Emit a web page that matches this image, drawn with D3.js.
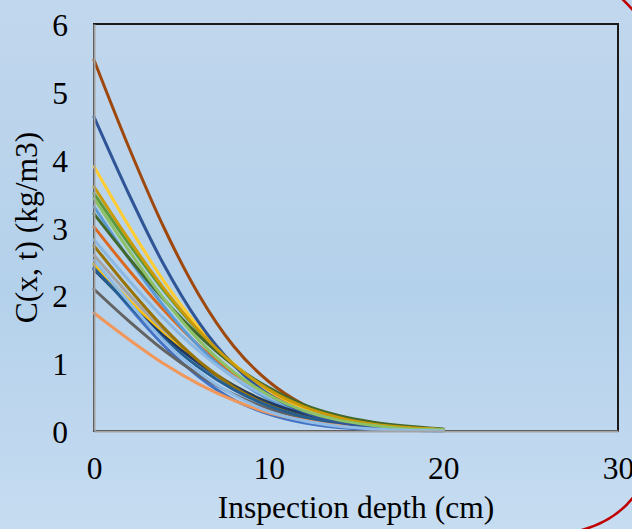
<!DOCTYPE html>
<html>
<head>
<meta charset="utf-8">
<script src="https://cdnjs.cloudflare.com/ajax/libs/d3/7.8.5/d3.min.js"></script>
<style>
  body { margin: 0; }
</style>
</head>
<body>
<div id="chart"></div>
<script>
// depth (cm) where each profile was read
var depths = [0, 2, 4, 6, 8, 10, 12, 14, 16, 18, 20];

// chloride profiles C(x, t)
var profiles = [
  [2.46, 1.83, 1.26, 0.80, 0.46, 0.25, 0.12, 0.05, 0.02, 0.01, 0.00],
  [3.01, 2.37, 1.78, 1.26, 0.85, 0.54, 0.32, 0.18, 0.09, 0.05, 0.02],
  [2.59, 2.01, 1.48, 1.03, 0.67, 0.41, 0.23, 0.12, 0.06, 0.03, 0.01],
  [2.46, 1.93, 1.43, 1.01, 0.67, 0.42, 0.25, 0.13, 0.07, 0.03, 0.01],
  [3.31, 2.54, 1.84, 1.25, 0.79, 0.47, 0.26, 0.13, 0.06, 0.03, 0.01],
  [3.50, 2.76, 2.07, 1.47, 0.98, 0.62, 0.37, 0.21, 0.11, 0.05, 0.02],
  [2.38, 1.87, 1.40, 1.00, 0.67, 0.42, 0.25, 0.14, 0.07, 0.04, 0.02],
  [5.47, 4.18, 3.00, 2.01, 1.25, 0.73, 0.39, 0.19, 0.09, 0.04, 0.01],
  [2.09, 1.62, 1.19, 0.83, 0.54, 0.33, 0.19, 0.10, 0.05, 0.02, 0.01],
  [2.73, 2.10, 1.52, 1.03, 0.65, 0.38, 0.21, 0.11, 0.05, 0.02, 0.01],
  [2.40, 1.86, 1.36, 0.94, 0.61, 0.37, 0.21, 0.11, 0.05, 0.02, 0.01],
  [3.20, 2.55, 1.94, 1.41, 0.97, 0.64, 0.39, 0.23, 0.13, 0.07, 0.03],
  [1.74, 1.35, 0.99, 0.69, 0.45, 0.27, 0.16, 0.08, 0.04, 0.02, 0.01],
  [3.90, 3.02, 2.21, 1.53, 0.99, 0.60, 0.34, 0.18, 0.09, 0.04, 0.02],
  [2.82, 2.22, 1.66, 1.18, 0.79, 0.50, 0.30, 0.17, 0.09, 0.04, 0.02],
  [4.63, 3.49, 2.45, 1.60, 0.97, 0.54, 0.28, 0.13, 0.06, 0.02, 0.01],
  [3.60, 2.82, 2.10, 1.48, 0.98, 0.61, 0.36, 0.20, 0.10, 0.05, 0.02],
  [3.43, 2.66, 1.95, 1.34, 0.87, 0.53, 0.30, 0.16, 0.08, 0.03, 0.02],
  [2.52, 1.90, 1.33, 0.87, 0.53, 0.29, 0.15, 0.07, 0.03, 0.01, 0.00]
];

var lineColors = ["#4472C4", "#DA6A1F", "#A5A5A5", "#FFC000", "#5B9BD5", "#5B9A3B",
  "#203864", "#9E480E", "#636363", "#997300", "#255E91", "#43682B", "#F1975A",
  "#FFCD33", "#8DB8E2", "#2F5597", "#C99A06", "#8CC168", "#8FBCE6"];

var xTicks = [0, 10, 20, 30];
var yTicks = [0, 1, 2, 3, 4, 5, 6];

var svgWidth = 632;
var svgHeight = 529;

var margin = {
  top: 24,
  right: 14,
  bottom: 98,
  left: 94
};

var width = svgWidth - margin.left - margin.right;
var height = svgHeight - margin.top - margin.bottom;

var svg = d3.select("#chart")
  .append("svg")
  .attr("width", svgWidth)
  .attr("height", svgHeight)
  .style("display", "block");

// light blue slide background
var grad = svg.append("defs").append("linearGradient")
  .attr("id", "bg")
  .attr("x1", 0).attr("y1", 0).attr("x2", 0).attr("y2", 1);
grad.append("stop").attr("offset", "0%").attr("stop-color", "#c1d7ed");
grad.append("stop").attr("offset", "55%").attr("stop-color", "#b4d1eb");
grad.append("stop").attr("offset", "100%").attr("stop-color", "#c6dcf1");

svg.append("rect")
  .attr("width", svgWidth)
  .attr("height", svgHeight)
  .attr("fill", "url(#bg)");

// red frame peeking in on the right
svg.append("path")
  .attr("d", "M619,-4 Q628,4 637,15")
  .attr("fill", "none")
  .attr("stroke", "#c00000")
  .attr("stroke-width", 2.5);
svg.append("path")
  .attr("d", "M640,487 Q620,522 574,532")
  .attr("fill", "none")
  .attr("stroke", "#c00000")
  .attr("stroke-width", 2.5);

var chartGroup = svg.append("g")
  .attr("transform", `translate(${margin.left}, ${margin.top})`);

var xScale = d3.scaleLinear()
  .domain([0, 30])
  .range([0, width]);

var yScale = d3.scaleLinear()
  .domain([0, 6])
  .range([height, 0]);

// plot area border
chartGroup.append("rect")
  .attr("width", width)
  .attr("height", height)
  .attr("fill", "none")
  .attr("stroke", "#1a1a1a")
  .attr("stroke-width", 2);

var line = d3.line()
  .x((d, i) => xScale(depths[i]))
  .y(d => yScale(d))
  .curve(d3.curveMonotoneX);

chartGroup.selectAll("path.profile")
  .data(profiles)
  .enter()
  .append("path")
  .attr("class", "profile")
  .attr("d", line)
  .attr("fill", "none")
  .attr("stroke", (d, i) => lineColors[i])
  .attr("stroke-width", 3)
  .attr("stroke-linecap", "round");

var bottomAxis = d3.axisBottom(xScale)
  .tickValues(xTicks)
  .tickFormat(d3.format("d"))
  .tickSize(0)
  .tickSizeOuter(0)
  .tickPadding(26);

var leftAxis = d3.axisLeft(yScale)
  .tickValues(yTicks)
  .tickFormat(d3.format("d"))
  .tickSize(0)
  .tickSizeOuter(0)
  .tickPadding(26);

var xAxisG = chartGroup.append("g")
  .attr("transform", `translate(0, ${height})`)
  .call(bottomAxis);

var yAxisG = chartGroup.append("g")
  .call(leftAxis);

[xAxisG, yAxisG].forEach(function(g) {
  g.attr("font-family", "'Liberation Serif', 'Times New Roman', serif")
    .attr("font-size", 31.5);
  g.select(".domain")
    .attr("stroke", "#a3a3a3")
    .attr("stroke-width", 2);
  g.selectAll(".tick text").attr("fill", "#000");
});
yAxisG.selectAll(".tick text").attr("dy", "0.37em");

// axis titles
chartGroup.append("text")
  .attr("transform", `translate(${width / 2}, ${height + 87})`)
  .attr("text-anchor", "middle")
  .attr("font-family", "'Liberation Serif', 'Times New Roman', serif")
  .attr("font-size", 31.5)
  .text("Inspection depth (cm)");

chartGroup.append("text")
  .attr("transform", `translate(${37 - margin.left}, ${height / 2}) rotate(-90)`)
  .attr("text-anchor", "middle")
  .attr("font-family", "'Liberation Serif', 'Times New Roman', serif")
  .attr("font-size", 31.5)
  .text("C(x, t) (kg/m3)");
</script>
</body>
</html>
